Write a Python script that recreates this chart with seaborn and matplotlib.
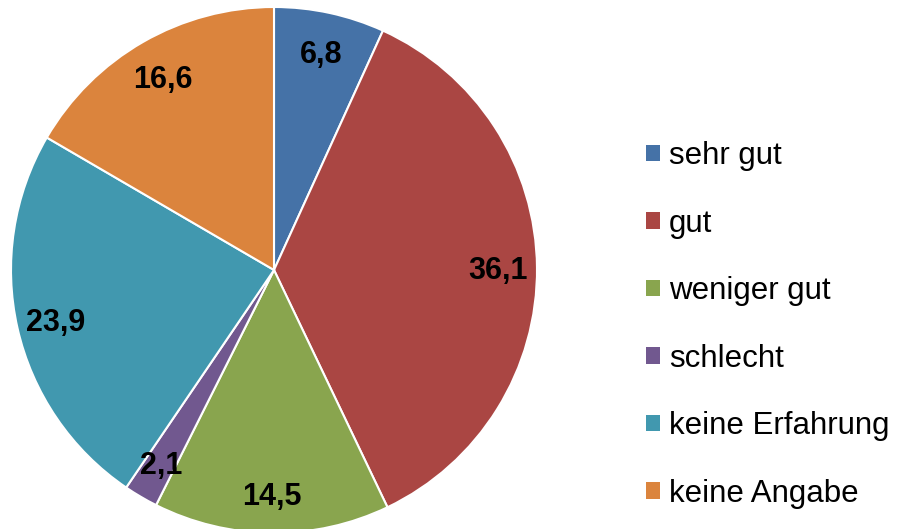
import numpy as np
import seaborn as sns
import matplotlib.pyplot as plt
from matplotlib.patches import Patch

# Daten
categories = ["sehr gut", "gut", "weniger gut", "schlecht", "keine Erfahrung", "keine Angabe"]
values = [6.8, 36.1, 14.5, 2.1, 23.9, 16.6]
value_labels = ["6,8", "36,1", "14,5", "2,1", "23,9", "16,6"]
colors = ["#4572A7", "#AA4643", "#89A54E", "#71588F", "#4198AF", "#DB843D"]

sns.set_theme(style="white")
plt.rcParams["font.family"] = ["Liberation Sans", "DejaVu Sans"]
palette = sns.color_palette(colors)

fig = plt.figure(figsize=(9, 5.29), dpi=100)
ax = fig.add_axes([11 / 900, -4 / 529, 526 / 900, 526 / 529])

lbl_iter = iter(value_labels)
wedges, texts, autotexts = ax.pie(
    values, colors=palette, startangle=90, counterclock=False,
    autopct=lambda p: next(lbl_iter), pctdistance=0.85,
    wedgeprops=dict(edgecolor="white", linewidth=1.5),
    textprops=dict(fontsize=22, fontweight="bold", color="black"),
)
for t in autotexts:
    t.set_va("center_baseline")
ax.set_xlim(-1, 1)
ax.set_ylim(-1, 1)
ax.set_aspect("equal")

handles = [Patch(facecolor=c, edgecolor="none") for c in palette]
leg = fig.legend(handles, categories, loc="center left", bbox_to_anchor=(646 / 900, 0.386),
                 frameon=False, fontsize=22.5, handlelength=0.45, handleheight=0.45,
                 handletextpad=0.28, labelspacing=1.2, borderpad=0, borderaxespad=0)
for t in leg.get_texts():
    t.set_color("black")

fig.savefig("out.png", dpi=100)
